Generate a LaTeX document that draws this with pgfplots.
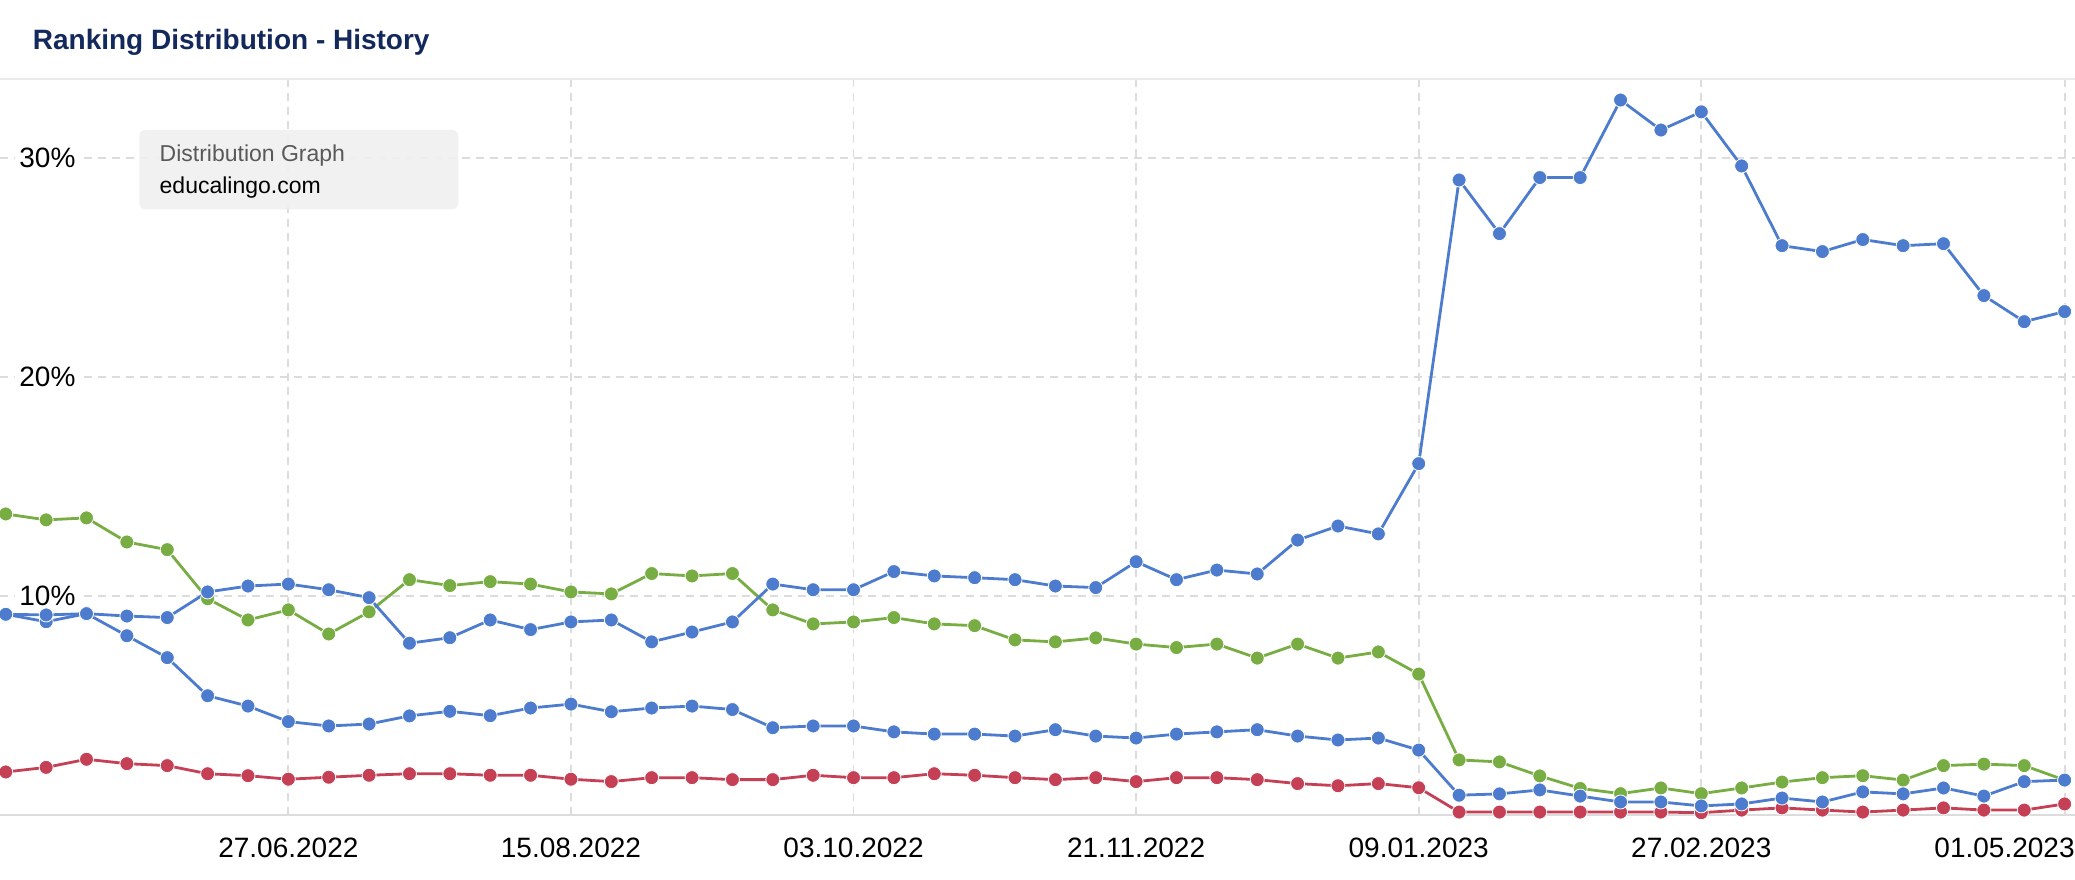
\documentclass[border=0pt]{standalone}
\usepackage{pgfplots}
\usepackage{pgfplotstable}
\pgfplotsset{compat=1.18}
\usepackage{fontspec}
\setmainfont{Liberation Sans}
\usetikzlibrary{calc}

\definecolor{serblue}{HTML}{4D7CCF}
\definecolor{sergreen}{HTML}{77AD42}
\definecolor{serred}{HTML}{C53F55}
\definecolor{titleblue}{HTML}{13295B}
\definecolor{gridgray}{HTML}{DCDCDC}

% day = days since 09.05.2022, weekly
\pgfplotstableread{
day green blueA blueB red
0 13.73 9.15 9.15 1.95
7 13.46 9.12 8.81 2.16
14 13.55 9.18 9.18 2.53
21 12.45 9.07 8.17 2.33
28 12.10 9.00 7.17 2.24
35 9.86 10.17 5.43 1.87
42 8.89 10.44 4.96 1.78
49 9.35 10.53 4.25 1.62
56 8.25 10.27 4.05 1.71
63 9.26 9.91 4.14 1.80
70 10.73 7.83 4.51 1.87
77 10.46 8.08 4.72 1.87
84 10.64 8.89 4.52 1.80
91 10.53 8.45 4.87 1.80
98 10.17 8.80 5.05 1.62
105 10.08 8.89 4.70 1.51
112 11.01 7.89 4.87 1.69
119 10.90 8.34 4.96 1.69
126 11.01 8.80 4.80 1.60
133 9.35 10.53 3.97 1.60
140 8.71 10.27 4.05 1.80
147 8.80 10.27 4.05 1.69
154 9.00 11.10 3.78 1.69
161 8.71 10.90 3.68 1.87
168 8.63 10.82 3.68 1.80
175 7.98 10.73 3.59 1.69
182 7.89 10.44 3.88 1.60
189 8.07 10.37 3.59 1.69
196 7.79 11.55 3.50 1.51
203 7.63 10.73 3.68 1.69
210 7.79 11.17 3.78 1.69
217 7.15 10.99 3.88 1.60
224 7.79 12.54 3.59 1.42
231 7.15 13.18 3.41 1.32
238 7.43 12.82 3.50 1.42
245 6.42 16.03 2.95 1.23
252 2.50 28.98 0.89 0.12
259 2.41 26.53 0.95 0.12
266 1.77 29.09 1.13 0.12
273 1.20 29.09 0.85 0.12
280 0.96 32.63 0.58 0.12
287 1.22 31.26 0.58 0.12
294 0.96 32.09 0.40 0.09
301 1.22 29.62 0.49 0.21
308 1.49 25.98 0.76 0.31
315 1.69 25.71 0.58 0.21
322 1.78 26.26 1.04 0.12
329 1.58 25.98 0.95 0.21
336 2.24 26.07 1.22 0.31
343 2.31 23.70 0.85 0.21
350 2.24 22.51 1.51 0.21
357 1.58 22.97 1.58 0.49
}\ranking

\begin{document}
\begin{tikzpicture}
\begin{axis}[
    name=ax,
    width=1037.5pt, height=367.85pt,
    scale only axis,
    xmin=-1, xmax=358.8,
    ymin=0, ymax=33.59,
    clip=false,
    axis line style={draw=none},
    xtick={49,98,147,196,245,294,357},
    xticklabels={27.06.2022,15.08.2022,03.10.2022,21.11.2022,09.01.2023,27.02.2023,},
    ytick={10,20,30},
    yticklabels={10\%,20\%,30\%},
    grid=major,
    major grid style={gridgray, line width=0.9pt, dash pattern=on 4pt off 3pt},
    tick align=inside,
    xtick pos=lower,
    major tick length=4pt,
    xtick style={gridgray, line width=0.6pt},
    ytick style={draw=none},
    tick label style={font=\fontsize{14}{16}\selectfont},
    xticklabel style={anchor=center, yshift=-16.5pt},
    yticklabel style={anchor=west, xshift=7.5pt, inner sep=2pt, fill=white},
]
\draw[gridgray, line width=1.1pt] (rel axis cs:0,0) -- (rel axis cs:1,0);
\addplot[serred, line width=1.4pt, mark=*, mark size=3.5pt,
  mark options={fill=serred, draw=white, line width=0.4pt}] table[x=day, y=red] {\ranking};
\addplot[sergreen, line width=1.4pt, mark=*, mark size=3.5pt,
  mark options={fill=sergreen, draw=white, line width=0.4pt}] table[x=day, y=green] {\ranking};
\addplot[serblue, line width=1.4pt, mark=*, mark size=3.5pt,
  mark options={fill=serblue, draw=white, line width=0.4pt}] table[x=day, y=blueB] {\ranking};
\addplot[serblue, line width=1.4pt, mark=*, mark size=3.5pt,
  mark options={fill=serblue, draw=white, line width=0.4pt}] table[x=day, y=blueA] {\ranking};
\end{axis}

% last tick label is kept inside the card, flush right
\node[anchor=east, inner sep=0, font=\fontsize{14}{16}\selectfont]
  at ($(ax.south east)+(0,-16.5pt)$) {01.05.2023};

\draw[black!8, line width=1.3pt] (ax.north west) -- (ax.north east);

\node[anchor=base west, inner sep=0, text=titleblue,
      font=\fontsize{14}{16}\selectfont\bfseries]
  at ($(ax.north west)+(16.25pt,14.85pt)$) {Ranking Distribution - History};

\fill[black!6, fill opacity=0.9, rounded corners=3pt]
  ($(ax.north west)+(69.65pt,-25.5pt)$) rectangle ($(ax.north west)+(229.15pt,-65.15pt)$);
\node[anchor=base west, inner sep=0, text=black!65, font=\fontsize{11.5}{13}\selectfont]
  at ($(ax.north west)+(79.65pt,-41.35pt)$) {Distribution Graph};
\node[anchor=base west, inner sep=0, text=black, font=\fontsize{11.5}{13}\selectfont]
  at ($(ax.north west)+(79.65pt,-57.15pt)$) {educalingo.com};

\pgfresetboundingbox
\path[use as bounding box] ($(ax.south west)+(0,-32.65pt)$) rectangle ($(ax.north east)+(0,39.5pt)$);
\end{tikzpicture}
\end{document}
